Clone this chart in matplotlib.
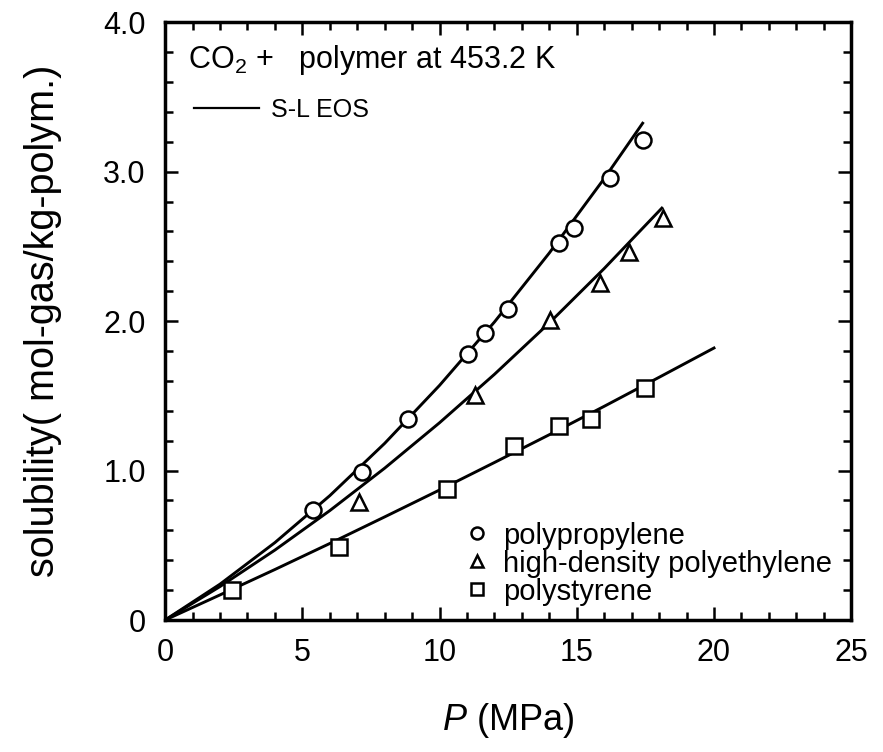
import matplotlib
matplotlib.use('Agg')
import matplotlib.pyplot as plt
from matplotlib.lines import Line2D
from matplotlib.ticker import MultipleLocator

plt.rcParams['font.family'] = ['Liberation Sans', 'DejaVu Sans']
plt.rcParams['mathtext.fontset'] = 'custom'
plt.rcParams['mathtext.rm'] = 'Liberation Sans'
plt.rcParams['mathtext.it'] = 'Liberation Sans:italic'

# measured points (P in MPa, solubility in mol-gas/kg-polym.)
pp_p = [5.40, 7.19, 8.84, 11.05, 11.66, 12.51, 14.37, 14.91, 16.22, 17.43]
pp_s = [0.736, 0.99, 1.344, 1.779, 1.918, 2.078, 2.524, 2.62, 2.955, 3.21]
hdpe_p = [7.07, 11.30, 14.03, 15.83, 16.90, 18.14]
hdpe_s = [0.79, 1.505, 2.007, 2.256, 2.464, 2.687]
ps_p = [2.45, 6.32, 10.27, 12.73, 14.37, 15.51, 17.47]
ps_s = [0.20, 0.49, 0.874, 1.166, 1.298, 1.344, 1.55]

# S-L EOS curves
pp_line_p = [0, 2, 4, 6, 8, 10, 12, 14, 16, 17.4]
pp_line_s = [0, 0.240, 0.518, 0.832, 1.182, 1.570, 1.994, 2.456, 2.954, 3.324]
hdpe_line_p = [0, 2, 4, 6, 8, 10, 12, 14, 16, 18.1]
hdpe_line_s = [0, 0.224, 0.468, 0.732, 1.016, 1.320, 1.644, 1.988, 2.352, 2.756]
ps_line_p = [0, 2, 4, 6, 8, 10, 12, 14, 16, 18, 20]
ps_line_s = [0, 0.168, 0.338, 0.512, 0.690, 0.870, 1.054, 1.240, 1.430, 1.624, 1.820]

labels = ['polypropylene', 'high-density polyethylene', 'polystyrene']

fig = plt.figure(figsize=(8.83, 7.52), dpi=100)
ax = fig.add_axes([0.187, 0.1755, 0.777, 0.795])

lw = 2.1
for xs, ys in [(pp_line_p, pp_line_s), (hdpe_line_p, hdpe_line_s), (ps_line_p, ps_line_s)]:
    ax.plot(xs, ys, color='black', lw=lw, zorder=2)

mk = dict(linestyle='none', color='black', mfc='white', mew=1.8, zorder=3)
h1, = ax.plot(pp_p, pp_s, marker='o', ms=11.5, label=labels[0], **mk)
h2, = ax.plot(hdpe_p, hdpe_s, marker='^', ms=11.5, label=labels[1], **mk)
h3, = ax.plot(ps_p, ps_s, marker='s', ms=12, label=labels[2], **mk)

ax.set_xlim(0, 25)
ax.set_ylim(0, 4)
ax.xaxis.set_major_locator(MultipleLocator(5))
ax.xaxis.set_minor_locator(MultipleLocator(1))
ax.yaxis.set_minor_locator(MultipleLocator(0.2))
ax.set_yticks([0, 1, 2, 3, 4])
ax.set_yticklabels(['0', '1.0', '2.0', '3.0', '4.0'])
ax.tick_params(which='both', direction='in', top=True, right=True, width=1.8,
               labelsize=22)
ax.tick_params(axis='x', which='both', pad=13)
ax.tick_params(axis='y', which='both', pad=14)
ax.tick_params(which='major', length=9.5)
ax.tick_params(which='minor', length=6)
for s in ax.spines.values():
    s.set_linewidth(2.5)

ax.set_xlabel('$P$ (MPa)', fontsize=26, labelpad=24)
ax.set_ylabel('solubility( mol-gas/kg-polym.)', fontsize=28.5, labelpad=30)

ax.text(0.034, 0.936, 'CO$_2$ +   polymer at 453.2 K', transform=ax.transAxes,
        fontsize=22, va='center', ha='left')

eos = ax.legend([Line2D([], [], color='black', lw=1.6)], ['S-L EOS'],
                loc='upper left', bbox_to_anchor=(0.042, 0.874), frameon=False,
                fontsize=18, handlelength=2.6, handletextpad=0.5,
                borderpad=0, borderaxespad=0)
ax.add_artist(eos)

ax.legend(handles=[h1, h2, h3], loc='lower left', bbox_to_anchor=(0.433, 0.024),
          frameon=False, fontsize=21, handlelength=1.0, handletextpad=0.4,
          labelspacing=0.0, borderpad=0, borderaxespad=0, markerscale=0.75)

fig.savefig('out.png', dpi=100)
